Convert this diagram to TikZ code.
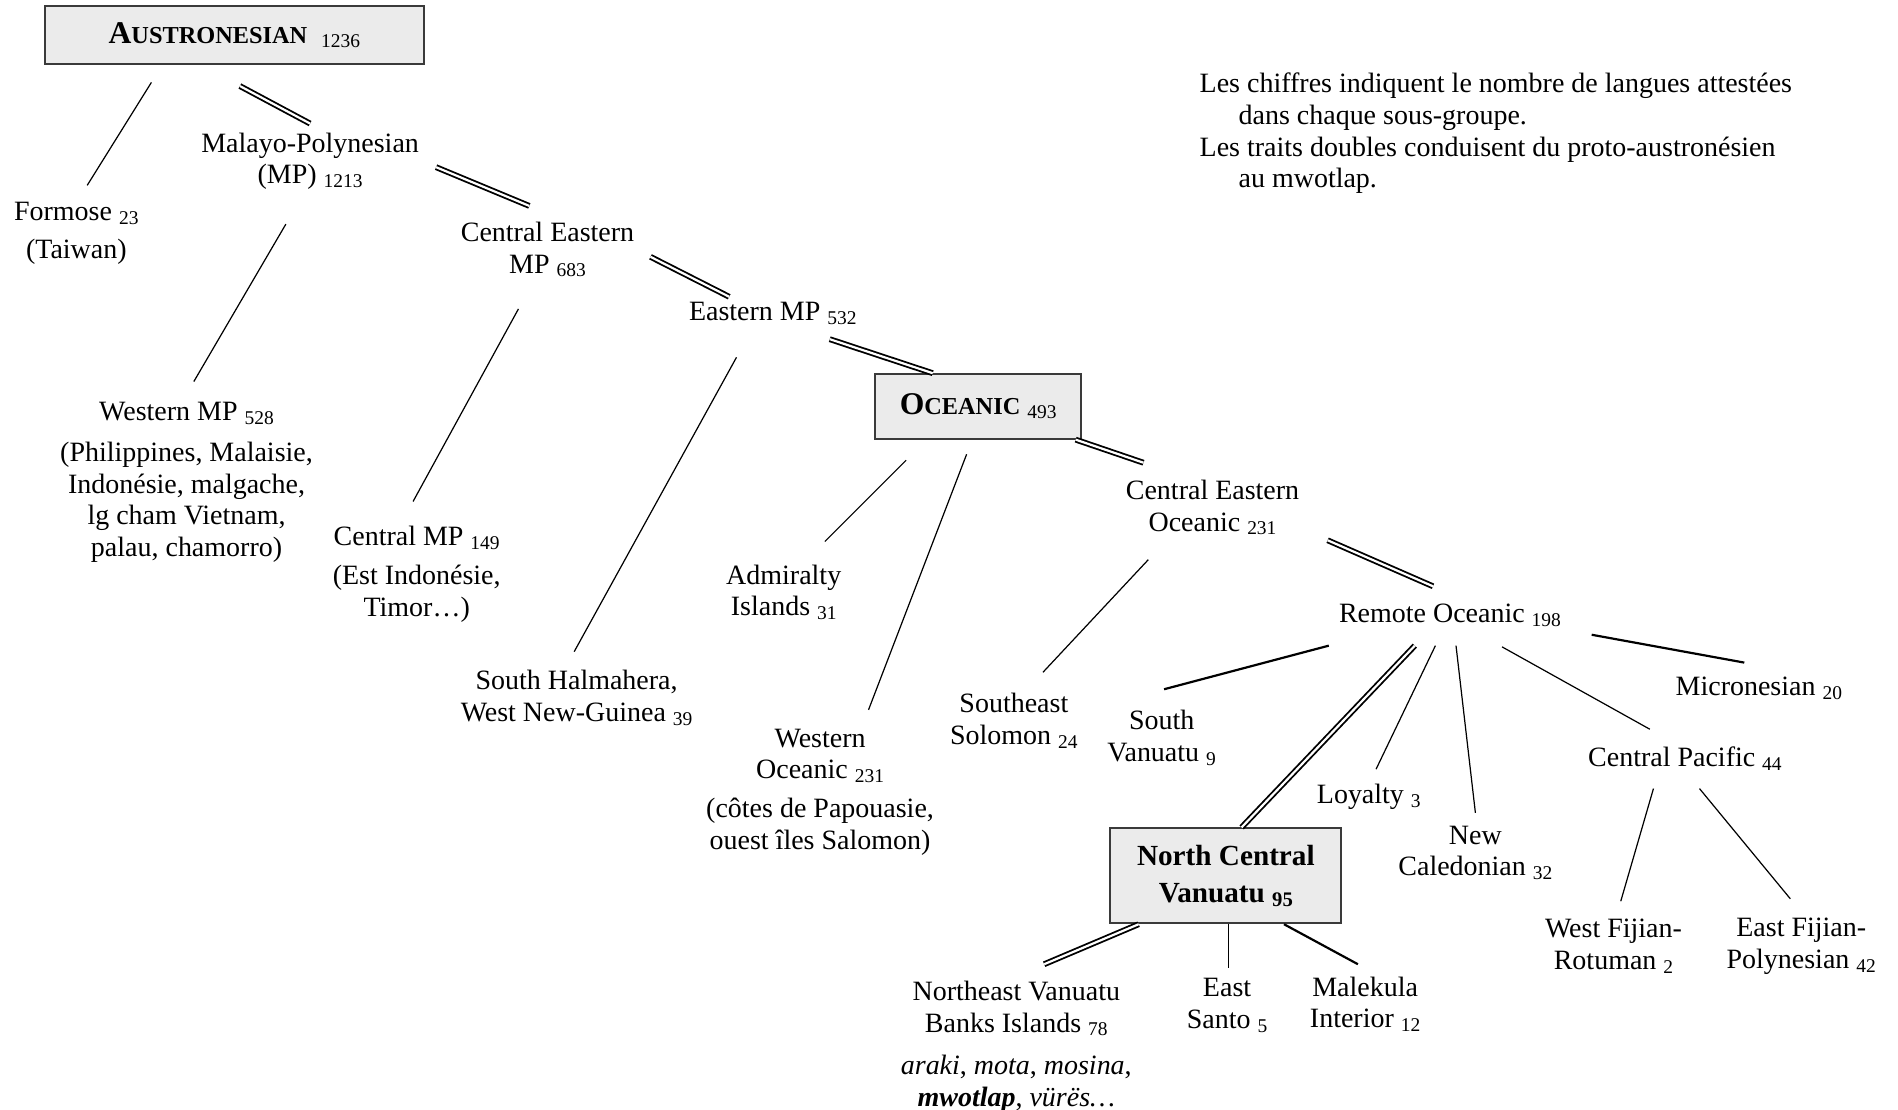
\documentclass[tikz,border=0pt]{standalone}
\usepackage{fontspec}
\setmainfont{Liberation Serif}
\newcommand\nb[1]{\raisebox{-1.6pt}{\fontsize{8}{8}\selectfont #1}}
\newcommand\fsc[2]{{\fontsize{13}{13}\selectfont #1}{\fontsize{10}{10}\selectfont #2}}
\definecolor{boxfill}{HTML}{EBEBEB}
\definecolor{boxline}{HTML}{3A3A3A}
\tikzset{
  lbl/.style={align=center, inner sep=0pt},
  gbox/.style={draw=boxline, fill=boxfill, line width=0.8pt, align=center, inner sep=0pt},
  br/.style={line width=0.5pt},
  brk/.style={line width=0.9pt},
  dbl/.style={double=white, line width=0.75pt, double distance=0.9pt}
}
\begin{document}
\begin{tikzpicture}[x=0.4978pt,y=-0.4978pt,font=\fontsize{11.5}{13}\selectfont]
\fill[white] (0pt,0pt) rectangle (780pt,-456pt);
\useasboundingbox (0pt,0pt) rectangle (780pt,-456pt);

% boxes
\node[gbox, minimum width=155.5pt, minimum height=24pt] (aus) at (193.5,29) {\textbf{\fsc{A}{USTRONESIAN}}\ \ \nb{1236}};
\node[gbox, minimum width=84.5pt, minimum height=26.5pt] (oce) at (807.5,335.5) {\textbf{\fsc{O}{CEANIC}} \nb{493}};
\node[gbox, minimum width=95pt, minimum height=39pt, font=\fontsize{12}{13}\selectfont] (ncv) at (1012,723) {\textbf{North Central}\\[2.5pt]\textbf{Vanuatu \raisebox{-1.6pt}{\fontsize{8.5}{8.5}\selectfont 95}}};

% legend
\node[align=left, inner sep=0pt, anchor=north west] (leg) at (990,60) {Les chiffres indiquent le nombre de langues attestées\\\hspace*{16pt}dans chaque sous-groupe.\\Les traits doubles conduisent du proto-austronésien\\\hspace*{16pt}au mwotlap.};

% labels
\node[lbl] (fo) at (63,192.5) {Formose \nb{23}\\[2.5pt](Taiwan)};
\node[lbl] (mp) at (256,133) {Malayo-Polynesian\\(MP) \nb{1213}};
\node[lbl] (cemp) at (452,206) {Central Eastern\\MP \nb{683}};
\node[lbl] (emp) at (638,259) {Eastern MP \nb{532}};
\node[lbl] (wmp) at (154,398) {Western MP \nb{528}\\[4pt](Philippines, Malaisie,\\Indonésie, malgache,\\lg cham Vietnam,\\palau, chamorro)};
\node[lbl] (cmp) at (344,474) {Central MP \nb{149}\\[3pt](Est Indonésie,\\Timor…)};
\node[lbl] (sh) at (476,576) {South Halmahera,\\West New-Guinea \nb{39}};
\node[lbl] (adm) at (647,489) {Admiralty\\Islands \nb{31}};
\node[lbl] (wo) at (677,654) {Western\\Oceanic \nb{231}\\[3pt](côtes de Papouasie,\\ouest îles Salomon)};
\node[lbl] (ceo) at (1001,419) {Central Eastern\\Oceanic \nb{231}};
\node[lbl] (seso) at (837,595) {Southeast\\Solomon \nb{24}};
\node[lbl] (sv) at (959,609) {South\\Vanuatu \nb{9}};
\node[lbl] (ro) at (1197,508) {Remote Oceanic \nb{198}};
\node[lbl] (mic) at (1452,568) {Micronesian \nb{20}};
\node[lbl] (cp) at (1391,626) {Central Pacific \nb{44}};
\node[lbl] (loy) at (1130,658) {Loyalty \nb{3}};
\node[lbl] (nc) at (1218,704) {New\\Caledonian \nb{32}};
\node[lbl] (nev) at (839,864) {Northeast Vanuatu\\Banks Islands \nb{78}\\[4.5pt]\textit{araki}, \textit{mota}, \textit{mosina},\\\textbf{\textit{mwotlap}}, \textit{vürës…}};
\node[lbl] (es) at (1013,830) {East\\Santo \nb{5}};
\node[lbl] (mal) at (1127,829) {Malekula\\Interior \nb{12}};
\node[lbl] (wf) at (1332,781) {West Fijian-\\Rotuman \nb{2}};
\node[lbl] (ef) at (1487,781) {East Fijian-\\Polynesian \nb{42}};

% connector end points
\coordinate (aus-fo1) at (125,68);   \coordinate (aus-fo2) at (72,153);
\coordinate (mp-wmp1) at (236,185);  \coordinate (mp-wmp2) at (160,315);
\coordinate (cemp-cmp1) at (428,255); \coordinate (cemp-cmp2) at (341,414);
\coordinate (emp-sh1) at (608,295);  \coordinate (emp-sh2) at (474,538);
\coordinate (oce-adm1) at (748,380); \coordinate (oce-adm2) at (681,447);
\coordinate (oce-wo1) at (798,375);  \coordinate (oce-wo2) at (717,586);
\coordinate (ceo-seso1) at (948,462); \coordinate (ceo-seso2) at (861,555);
\coordinate (ro-sv1) at (1097,533);  \coordinate (ro-sv2) at (961,569);
\coordinate (ro-loy1) at (1185,533); \coordinate (ro-loy2) at (1136,635);
\coordinate (ro-nc1) at (1202,533);  \coordinate (ro-nc2) at (1218,671);
\coordinate (ro-cp1) at (1240,534);  \coordinate (ro-cp2) at (1362,602);
\coordinate (ro-mic1) at (1314,524); \coordinate (ro-mic2) at (1440,547);
\coordinate (cp-wf1) at (1365,651);  \coordinate (cp-wf2) at (1338,744);
\coordinate (cp-ef1) at (1403,651);  \coordinate (cp-ef2) at (1478,742);
\coordinate (ncv-es2) at (1014,799);
\coordinate (ncv-mal2) at (1121,796);
\coordinate (aus-mp1) at (198,71);   \coordinate (aus-mp2) at (256,102);
\coordinate (mp-cemp1) at (360,138); \coordinate (mp-cemp2) at (437,170);
\coordinate (cemp-emp1) at (537,212); \coordinate (cemp-emp2) at (602,245);
\coordinate (emp-oce1) at (685,280);
\coordinate (oce-ceo2) at (944,382);
\coordinate (ceo-ro1) at (1096,446); \coordinate (ceo-ro2) at (1183,484);
\coordinate (ro-ncv1) at (1168,533);
\coordinate (ncv-nev2) at (862,796);

% single connectors
\draw[br] (aus-fo1) -- (aus-fo2);
\draw[br] (mp-wmp1) -- (mp-wmp2);
\draw[br] (cemp-cmp1) -- (cemp-cmp2);
\draw[br] (emp-sh1) -- (emp-sh2);
\draw[br] (oce-adm1) -- (oce-adm2);
\draw[br] (oce-wo1) -- (oce-wo2);
\draw[br] (ceo-seso1) -- (ceo-seso2);
\draw[brk] (ro-sv1) -- (ro-sv2);
\draw[br] (ro-loy1) -- (ro-loy2);
\draw[br] (ro-nc1) -- (ro-nc2);
\draw[br] (ro-cp1) -- (ro-cp2);
\draw[brk] (ro-mic1) -- (ro-mic2);
\draw[br] (cp-wf1) -- (cp-wf2);
\draw[br] (cp-ef1) -- (cp-ef2);
\draw[br] (ncv.south -| ncv-es2) -- (ncv-es2);
\draw[brk] (ncv.south -| 1060,0) -- (ncv-mal2);

% double connectors (path to mwotlap)
\draw[dbl] (aus-mp1) -- (aus-mp2);
\draw[dbl] (mp-cemp1) -- (mp-cemp2);
\draw[dbl] (cemp-emp1) -- (cemp-emp2);
\draw[dbl] (emp-oce1) -- (oce.north -| 770,0);
\draw[dbl] (oce.south -| 888,0) -- (oce-ceo2);
\draw[dbl] (ceo-ro1) -- (ceo-ro2);
\draw[dbl] (ro-ncv1) -- (ncv.north -| 1025,0);
\draw[dbl] (ncv.south -| 940,0) -- (ncv-nev2);
\end{tikzpicture}
\end{document}
